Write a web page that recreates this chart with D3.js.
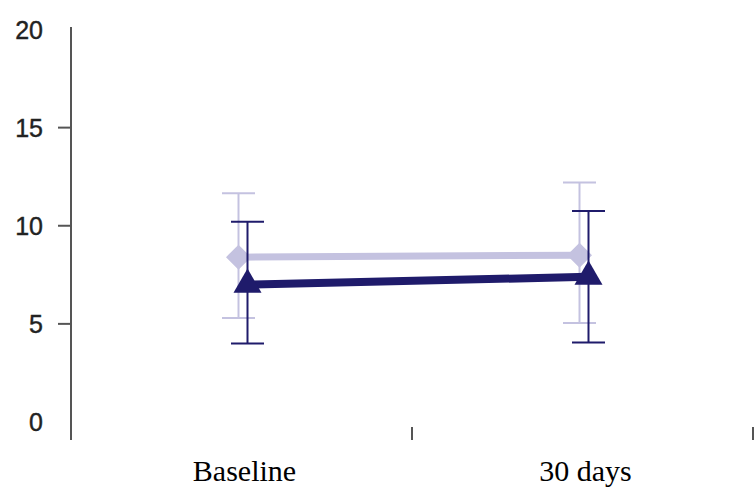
<!DOCTYPE html>
<html>
<head>
<meta charset="utf-8">
<script src="https://cdn.jsdelivr.net/npm/d3@7"></script>
<style>
  body { margin: 0; background: #fff; }
  svg { display: block; }
</style>
</head>
<body>
<div id="chart"></div>
<script>
var categories = ["Baseline", "30 days"];
var yTicks = [0, 5, 10, 15, 20];

// light series (diamonds)
var lightMean = [8.4, 8.5];
var lightUpper = [11.65, 12.2];
var lightLower = [5.3, 5.05];

// dark series (triangles)
var darkMean = [7.0, 7.4];
var darkUpper = [10.2, 10.75];
var darkLower = [4.0, 4.05];

var width = 755, height = 488;
var lightColor = "#c4c2e0", darkColor = "#1f1b6b";

var svg = d3.select("#chart").append("svg")
    .attr("width", width)
    .attr("height", height);

var x = d3.scaleBand().domain(categories).range([71, 753]).padding(0);
var y = d3.scaleLinear().domain([0, 20]).range([422, 29.5]);

// y axis line + ticks
svg.append("line")
    .attr("x1", 71).attr("x2", 71)
    .attr("y1", 27).attr("y2", 440)
    .attr("stroke", "#555").attr("stroke-width", 2);

svg.selectAll(".ytick")
    .data(yTicks.filter(function(d) { return d > 0 && d < 20; }))
    .enter().append("line")
    .attr("x1", 58).attr("x2", 71)
    .attr("y1", function(d) { return y(d); })
    .attr("y2", function(d) { return y(d); })
    .attr("stroke", "#555").attr("stroke-width", 2);

svg.selectAll(".ylabel")
    .data(yTicks)
    .enter().append("text")
    .attr("x", 43)
    .attr("y", function(d) { return y(d); })
    .attr("dy", "0.36em")
    .attr("text-anchor", "end")
    .style("font-family", "'Liberation Sans', Arial, sans-serif")
    .style("font-size", "25px")
    .attr("fill", "#222")
    .attr("stroke", "#222").attr("stroke-width", 0.4)
    .text(function(d) { return d; });

// x band boundary ticks
svg.selectAll(".xtick")
    .data(categories)
    .enter().append("line")
    .attr("x1", function(d) { return x(d) + x.bandwidth(); })
    .attr("x2", function(d) { return x(d) + x.bandwidth(); })
    .attr("y1", 427).attr("y2", 440)
    .attr("stroke", "#555").attr("stroke-width", 2);

// x labels
svg.selectAll(".xlabel")
    .data(categories)
    .enter().append("text")
    .attr("x", function(d) { return x(d) + x.bandwidth() / 2 + 3; })
    .attr("y", 481)
    .attr("text-anchor", "middle")
    .style("font-family", "'Liberation Serif', 'Times New Roman', serif")
    .style("font-size", "30px")
    .attr("fill", "#000")
    .text(function(d) { return d; });

function drawSeries(mean, upper, lower, color, offset, lineW, barW, symbol, size, rotate) {
    var cx = function(i) { return x(categories[i]) + x.bandwidth() / 2 + offset; };
    var g = svg.append("g");
    var idx = categories.map(function(d, i) { return i; });

    g.selectAll(".ev").data(idx).enter().append("line")
        .attr("x1", cx).attr("x2", cx)
        .attr("y1", function(i) { return y(upper[i]); })
        .attr("y2", function(i) { return y(lower[i]); })
        .attr("stroke", color).attr("stroke-width", barW);

    g.selectAll(".cap").data(idx.concat(idx)).enter().append("line")
        .attr("x1", function(i) { return cx(i) - 16.5; })
        .attr("x2", function(i) { return cx(i) + 16.5; })
        .attr("y1", function(i, k) { return y(k < idx.length ? upper[i] : lower[i]); })
        .attr("y2", function(i, k) { return y(k < idx.length ? upper[i] : lower[i]); })
        .attr("stroke", color).attr("stroke-width", barW);

    var line = d3.line()
        .x(function(i) { return cx(i); })
        .y(function(i) { return y(mean[i]); });
    g.append("path")
        .attr("d", line(idx))
        .attr("fill", "none")
        .attr("stroke", color)
        .attr("stroke-width", lineW);

    g.selectAll(".pt").data(idx).enter().append("path")
        .attr("d", d3.symbol().type(symbol).size(size))
        .attr("transform", function(i) {
            return "translate(" + cx(i) + "," + y(mean[i]) + ") rotate(" + rotate + ")";
        })
        .attr("fill", color);
}

drawSeries(lightMean, lightUpper, lightLower, lightColor, -3, 7, 2, d3.symbolSquare, 313, 45);
drawSeries(darkMean, darkUpper, darkLower, darkColor, 6, 8, 2, d3.symbolTriangle, 340, 0);
</script>
</body>
</html>
